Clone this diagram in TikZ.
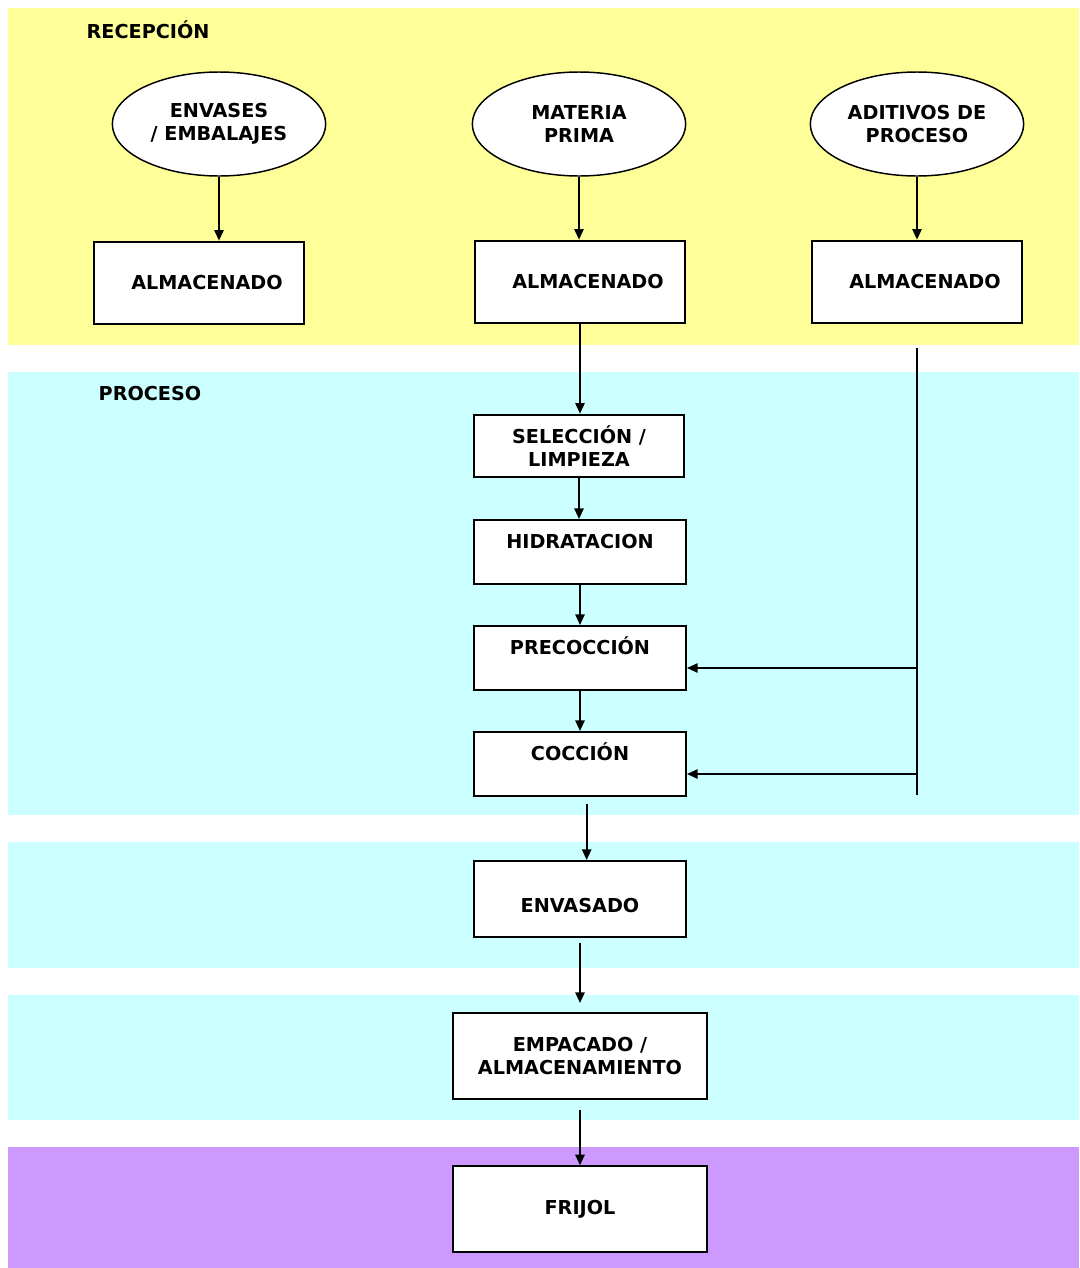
\documentclass[tikz,border=0pt]{standalone}
\usepackage{fontspec}
\setmainfont{DejaVu Sans}
\usepackage{xcolor}
\usetikzlibrary{shapes.geometric,arrows.meta}
\definecolor{amarillo}{HTML}{FFFF99}
\definecolor{celeste}{HTML}{CCFFFF}
\definecolor{lila}{HTML}{CC99FF}

\begin{document}
\begin{tikzpicture}[x=0.75pt,y=-0.75pt,
	font=\fontsize{14.4}{17}\selectfont\bfseries,
	caja/.style={draw,fill=white,line width=1.5pt,align=center,inner sep=0pt},
	ovalo/.style={ellipse,draw,fill=white,line width=1.1pt,minimum width=160pt,minimum height=78pt,align=center,inner sep=0pt},
	arriba/.style={text height=10pt,text depth=15pt},
	abajo/.style={text height=20pt,text depth=0pt},
	flecha/.style={line width=1.3pt,-{Triangle[length=8pt,width=7pt]}}]

	\useasboundingbox (0,0) rectangle (1079,1268);
	% franjas
	\fill[amarillo] (8,8) rectangle (1079,345);
	\fill[celeste] (8,372) rectangle (1079,815);
	\fill[celeste] (8,842) rectangle (1079,968);
	\fill[celeste] (8,995) rectangle (1079,1120);
	\fill[lila] (8,1147) rectangle (1079,1268);

	\node[anchor=west] (recep) at (82,30) {RECEPCIÓN};
	\node[anchor=west] (proc) at (94,394) {PROCESO};

	% recepcion
	\node[ovalo] (envases) at (219,124) {ENVASES\\/ EMBALAJES};
	\node[ovalo] (materia) at (579,124) {MATERIA\\PRIMA};
	\node[ovalo] (aditivos) at (917,124) {ADITIVOS DE\\PROCESO};

	\node[caja,minimum width=158pt,minimum height=62pt] (almI) at (199,283) {\hspace*{12pt}ALMACENADO};
	\node[caja,minimum width=158pt,minimum height=62pt] (almM) at (580,282) {\hspace*{12pt}ALMACENADO};
	\node[caja,minimum width=158pt,minimum height=62pt] (almD) at (917,282) {\hspace*{12pt}ALMACENADO};

	% proceso
	\node[caja,minimum width=158pt,minimum height=47pt] (selec) at (579,446) {SELECCIÓN /\\LIMPIEZA};
	\node[caja,arriba,minimum width=159pt,minimum height=48pt] (hidra) at (580,552) {HIDRATACION};
	\node[caja,arriba,minimum width=159pt,minimum height=48pt] (precoc) at (580,658) {PRECOCCIÓN};
	\node[caja,arriba,minimum width=159pt,minimum height=48pt] (cocc) at (580,764) {COCCIÓN};
	\node[caja,abajo,minimum width=159pt,minimum height=57pt] (envas) at (580,899) {ENVASADO};
	\node[caja,minimum width=190pt,minimum height=64pt] (empac) at (580,1056) {EMPACADO /\\ALMACENAMIENTO};
	\node[caja,minimum width=190pt,minimum height=64pt] (frijol) at (580,1209) {FRIJOL};

	\draw[flecha] (envases.south) -- (envases.south |- almI.north);
	\draw[flecha] (materia.south) -- (materia.south |- almM.north);
	\draw[flecha] (aditivos.south) -- (almD.north);
	\draw[flecha] (almM.south) -- (almM.south |- selec.north);
	\draw[flecha] (selec.south) -- (selec.south |- hidra.north);
	\draw[flecha] (hidra.south) -- (precoc.north);
	\draw[flecha] (precoc.south) -- (cocc.north);

	% linea de aditivos
	\coordinate (ad1) at (917,348);
	\coordinate (ad2) at (917,795);
	\coordinate (r1) at (917,668);
	\coordinate (r2) at (917,774);
	\draw[line width=1.3pt] (ad1) -- (ad2);
	\draw[flecha] (r1) -- (precoc.east |- r1);
	\draw[flecha] (r2) -- (cocc.east |- r2);

	\draw[flecha] ([xshift=5pt,yshift=-5pt]cocc.south) -- ([xshift=5pt]envas.north);
	\draw[flecha,shorten <=4pt,shorten >=7pt] (envas.south) -- (empac.north);
	\draw[flecha,shorten <=8pt] (empac.south) -- (frijol.north);
\end{tikzpicture}
\end{document}
